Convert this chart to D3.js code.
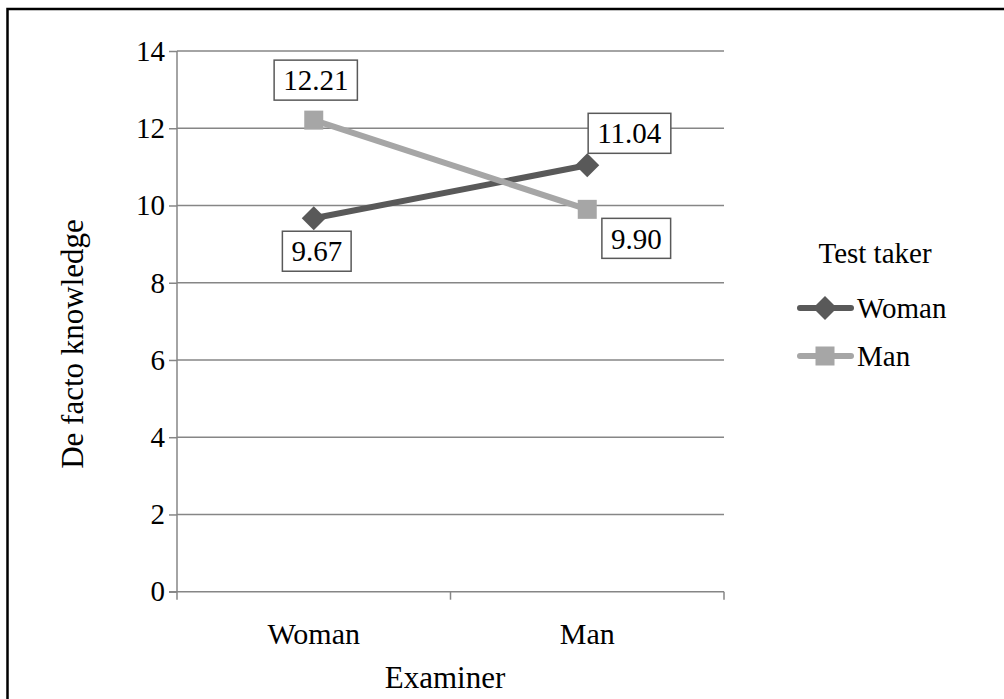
<!DOCTYPE html>
<html>
<head>
<meta charset="utf-8">
<script src="https://cdn.jsdelivr.net/npm/d3@7"></script>
<style>
  body { margin: 0; background: #fff; }
</style>
</head>
<body>
<div id="chart"></div>
<script>
// donnees
const examinateurs = ["Woman", "Man"];
const femmes = [9.67, 11.04];
const hommes = [12.21, 9.90];
const ticksY = [0, 2, 4, 6, 8, 10, 12, 14];

const series = [
  { nom: "Woman", valeurs: femmes, couleur: "#595959", marque: "diamond" },
  { nom: "Man", valeurs: hommes, couleur: "#a6a6a6", marque: "square" }
];

const police = "'Liberation Serif', 'DejaVu Serif', 'Times New Roman', Times, serif";
const taille = "29px";
const tailleTitre = "31px";
const width = 1004, height = 699;
const margin = { top: 51, left: 177, right: 280, bottom: 107 };

const svg = d3.select("#chart").append("svg")
  .attr("width", width)
  .attr("height", height)
  .style("font-family", police);

// cadre
svg.append("rect")
  .attr("x", 7.5).attr("y", 9)
  .attr("width", 1010).attr("height", 720)
  .attr("fill", "none")
  .attr("stroke", "#000")
  .attr("stroke-width", 2.5);

const echelleX = d3.scaleBand()
  .domain(examinateurs)
  .range([margin.left, width - margin.right]);

const echelleY = d3.scaleLinear()
  .domain([0, 14])
  .range([height - margin.bottom - 0.3, margin.top]);

// grille
svg.append("g")
  .selectAll("line")
  .data(ticksY.filter(d => d > 0))
  .join("line")
  .attr("x1", margin.left).attr("x2", width - margin.right)
  .attr("y1", d => echelleY(d)).attr("y2", d => echelleY(d))
  .attr("stroke", "#868686").attr("stroke-width", 1.5);

// axe Y
const axeY = d3.axisLeft(echelleY).tickValues(ticksY).tickSize(8).tickPadding(4);
const gY = svg.append("g")
  .attr("transform", "translate(" + margin.left + ",0)")
  .call(axeY)
  .attr("font-family", null)
  .attr("font-size", null);
gY.selectAll("path, line").attr("stroke", "#868686").attr("stroke-width", 1.5);
gY.select(".domain").attr("d", "M0," + echelleY(14) + "V" + echelleY(0));
gY.selectAll("text").style("font-size", taille).attr("fill", "#000");

// axe X
const x0 = echelleY(0);
const gX = svg.append("g");
gX.append("line")
  .attr("x1", margin.left - 8).attr("x2", width - margin.right)
  .attr("y1", x0).attr("y2", x0)
  .attr("stroke", "#868686").attr("stroke-width", 1.5);
const bords = [echelleX.range()[0], echelleX("Man"), echelleX.range()[1]];
gX.selectAll(".tk")
  .data(bords)
  .join("line")
  .attr("x1", d => d).attr("x2", d => d)
  .attr("y1", x0).attr("y2", x0 + 8)
  .attr("stroke", "#868686").attr("stroke-width", 1.5);
gX.selectAll("text")
  .data(examinateurs)
  .join("text")
  .attr("x", d => echelleX(d) + echelleX.bandwidth() / 2)
  .attr("y", x0 + 52)
  .attr("text-anchor", "middle")
  .style("font-size", "30px")
  .text(d => d);

// titres des axes
svg.append("text")
  .attr("x", 445)
  .attr("y", 688)
  .attr("text-anchor", "middle")
  .style("font-size", tailleTitre)
  .text("Examiner");

svg.append("text")
  .attr("transform", "translate(83,344) rotate(-90)")
  .attr("text-anchor", "middle")
  .style("font-size", tailleTitre)
  .text("De facto knowledge");

// lignes et marques
const ligne = d3.line()
  .x((d, i) => echelleX(examinateurs[i]) + echelleX.bandwidth() / 2)
  .y(d => echelleY(d));

function dessinerMarque(g, type, couleur) {
  if (type === "diamond") {
    g.append("path").attr("d", "M0,-12L12,0L0,12L-12,0Z").attr("fill", couleur);
  } else {
    g.append("rect").attr("x", -9.5).attr("y", -9.5).attr("width", 19).attr("height", 19).attr("fill", couleur);
  }
}

series.forEach(s => {
  svg.append("path")
    .datum(s.valeurs)
    .attr("d", ligne)
    .attr("fill", "none")
    .attr("stroke", s.couleur)
    .attr("stroke-width", 6);
  s.valeurs.forEach((v, i) => {
    const g = svg.append("g")
      .attr("transform", "translate(" + (echelleX(examinateurs[i]) + echelleX.bandwidth() / 2) + "," + echelleY(v) + ")");
    dessinerMarque(g, s.marque, s.couleur);
  });
});

// etiquettes de valeurs (decalages relatifs au point)
const decalages = {
  "Woman-0": [3, 33], "Woman-1": [42, -32],
  "Man-0": [2, -40], "Man-1": [49, 29]
};
series.forEach(s => {
  s.valeurs.forEach((v, i) => {
    const d = decalages[s.nom + "-" + i];
    const cx = echelleX(examinateurs[i]) + echelleX.bandwidth() / 2 + d[0];
    const cy = echelleY(v) + d[1];
    const g = svg.append("g").attr("transform", "translate(" + cx + "," + cy + ")");
    const t = g.append("text")
      .attr("text-anchor", "middle")
      .attr("dy", "0.35em")
      .style("font-size", taille)
      .text(v.toFixed(2));
    const bb = t.node().getBBox();
    g.insert("rect", "text")
      .attr("x", bb.x - 9).attr("y", -20)
      .attr("width", bb.width + 18).attr("height", 40)
      .attr("fill", "#fff")
      .attr("stroke", "#595959")
      .attr("stroke-width", 1.5);
  });
});

// legende
const leg = svg.append("g");
leg.append("text")
  .attr("x", 875).attr("y", 263)
  .attr("text-anchor", "middle")
  .style("font-size", taille)
  .text("Test taker");
series.forEach((s, i) => {
  const y = 308 + i * 48;
  leg.append("line")
    .attr("x1", 800).attr("x2", 851)
    .attr("y1", y).attr("y2", y)
    .attr("stroke", s.couleur).attr("stroke-width", 6)
    .attr("stroke-linecap", "round");
  const g = leg.append("g").attr("transform", "translate(825," + y + ")");
  dessinerMarque(g, s.marque, s.couleur);
  leg.append("text")
    .attr("x", 857).attr("y", y + 10)
    .style("font-size", taille)
    .text(s.nom);
});

svg.selectAll("text").style("font-family", police);
</script>
</body>
</html>
